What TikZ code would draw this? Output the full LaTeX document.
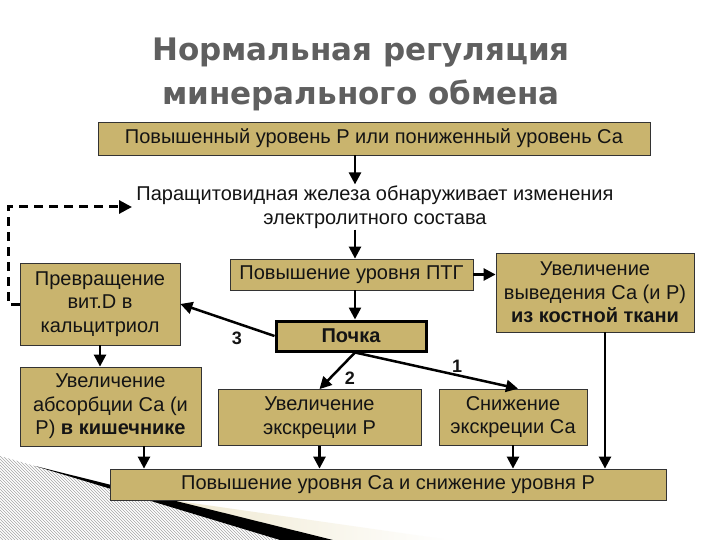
\documentclass[tikz,border=0pt]{standalone}
\usepackage{fontspec}
\setmainfont{Liberation Sans}
\newfontfamily\titlefont{DejaVu Sans}
\usetikzlibrary{arrows.meta,patterns}
\definecolor{tan}{RGB}{201,180,110}
\definecolor{titlegray}{RGB}{95,95,95}
\definecolor{txt}{RGB}{20,20,20}
\definecolor{cream}{RGB}{238,231,205}
\begin{document}
\begin{tikzpicture}[x=1pt,y=-1pt,
  box/.style={draw=black!80, line width=0.8pt, fill=tan, text=txt, align=center,
    inner sep=0pt, font=\fontsize{20}{23.5}\selectfont},
  flow/.style={line width=2.5pt, -{Triangle[length=12pt,width=12pt]}},
  dflow/.style={line width=3pt, dash pattern=on 9pt off 6pt, -{Triangle[length=13pt,width=13pt]}},
  num/.style={font=\fontsize{18}{18}\selectfont\bfseries, text=txt},
  titlestyle/.style={font=\titlefont\fontsize{31}{31}\selectfont\bfseries, text=titlegray, anchor=base}]
\useasboundingbox (0,0) rectangle (720,540);
\fill[white] (0,0) rectangle (720,540);
% decoration
\fill[pattern=north west lines, pattern color=black!35] (0,456) -- (35,466) -- (280,540) -- (0,540) -- cycle;
\shade[left color=cream, right color=white] (150,497) -- (450,540) -- (333,540) -- cycle;
\fill[black] (35,466) -- (333,540) -- (280,540) -- cycle;
% title
\node[titlestyle] (t1) at (361,61) {Нормальная регуляция};
\node[titlestyle] (t2) at (361,105) {минерального обмена};
% nodes
\node[box, minimum width=552pt, minimum height=33pt] (top) at (374,138.5) {Повышенный уровень Р или пониженный уровень Са};
\node[align=center, text=txt, font=\fontsize{20}{24}\selectfont, inner sep=1pt] (para) at (375,207) {Паращитовидная железа обнаруживает изменения\\электролитного состава};
\node[box, minimum width=243pt, minimum height=31pt] (ptg) at (351.5,274.5) {Повышение уровня ПТГ};
\node[box, minimum width=198pt, minimum height=79pt] (bone) at (595,292.5) {Увеличение\\выведения Са (и Р)\\\textbf{из костной ткани}};
\node[box, line width=3pt, draw=black, minimum width=150pt, minimum height=30pt] (pochka) at (351,336) {\textbf{Почка}};
\node[box, minimum width=160pt, minimum height=82pt] (vitd) at (100,304) {Превращение\\вит.D в\\кальцитриол};
\node[box, minimum width=181pt, minimum height=79pt] (absorb) at (110.5,406.5) {Увеличение\\абсорбции Са (и\\Р) \textbf{в кишечнике}};
\node[box, minimum width=203pt, minimum height=56pt] (excrP) at (319.5,417.5) {Увеличение\\экскреции Р};
\node[box, minimum width=148pt, minimum height=56pt] (excrCa) at (513,417) {Снижение\\экскреции Са};
\node[box, minimum width=556pt, minimum height=31pt] (bottom) at (388,484.5) {Повышение уровня Са и снижение уровня Р};
% helper coordinates
\coordinate (ax) at (355,0);
\coordinate (absx) at (144,0);
\coordinate (bonex) at (605,0);
\coordinate (dcorner) at (8,207);
\coordinate (dend) at (132,207);
% connectors
\draw[flow] (top.south -| ax) -- (para.north -| ax);
\draw[flow] (para.south -| ax) -- (ptg.north -| ax);
\draw[flow] (ptg.south -| ax) -- (pochka.north -| ax);
\draw[flow] (ptg.east) -- (bone.west |- ptg.east);
\draw[flow] (pochka.west) -- (vitd.east);
\draw[flow] (vitd.south) -- (absorb.north -| vitd.south);
\draw[flow] (pochka.south -| ax) -- (excrP.north);
\draw[flow] (pochka.south -| ax) -- ([xshift=5pt]excrCa.north);
\draw[flow] (absorb.south -| absx) -- (bottom.north -| absx);
\draw[flow] (excrP.south) -- (bottom.north -| excrP.south);
\draw[flow] (excrCa.south) -- (bottom.north -| excrCa.south);
\draw[flow] (bone.south -| bonex) -- (bottom.north -| bonex);
\draw[dflow] (vitd.west) -| (dcorner) -- (dend);
% labels
\node[num] (n3) at (237,338) {3};
\node[num] (n2) at (350,378) {2};
\node[num] (n1) at (457,366) {1};
\end{tikzpicture}
\end{document}
